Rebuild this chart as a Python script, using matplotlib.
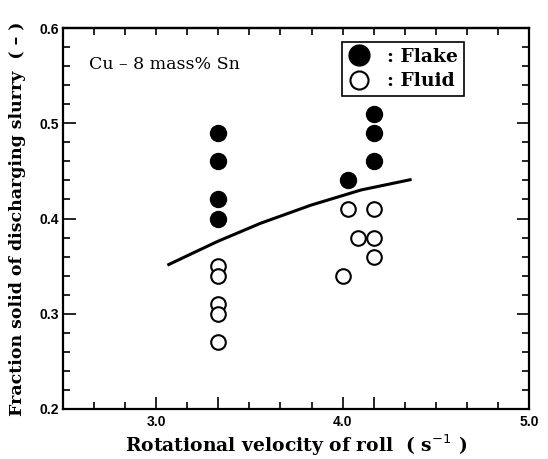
import matplotlib
matplotlib.use("Agg")
import matplotlib.pyplot as plt
from matplotlib.lines import Line2D
import numpy as np

# Data
flake_x = [3.333, 3.333, 3.333, 3.333, 4.03, 4.167, 4.167, 4.167]
flake_y = [0.49, 0.46, 0.42, 0.40, 0.44, 0.51, 0.49, 0.46]

fluid_x = [3.333, 3.333, 3.333, 3.333, 3.333, 4.00, 4.03, 4.08, 4.167, 4.167, 4.167]
fluid_y = [0.35, 0.34, 0.31, 0.30, 0.27, 0.34, 0.41, 0.38, 0.41, 0.38, 0.36]

curve_x = [3.06, 3.20, 3.33, 3.56, 3.83, 4.10, 4.37]
curve_y = [0.351, 0.364, 0.376, 0.395, 0.414, 0.430, 0.441]

x_major = [3.0, 10/3, 4.0, 25/6, 5.0]
x_major_labels = ["3.0", "", "4.0", "", "5.0"]
y_major = [0.2, 0.3, 0.4, 0.5, 0.6]
y_major_labels = ["0.2", "0.3", "0.4", "0.5", "0.6"]

serif = ["DejaVu Serif"]
narrow = ["Liberation Sans Narrow", "Liberation Sans", "DejaVu Sans"]

fig = plt.figure(figsize=(5.48, 4.59), dpi=100)
ax = fig.add_axes([63/548, 50/459, (529-63)/548, (409-28)/459])

ax.plot(curve_x, curve_y, color="black", lw=2.2, solid_capstyle="butt", zorder=2)
ax.plot(flake_x, flake_y, "o", ms=11.5, mfc="black", mec="black", mew=1.0, ls="none", zorder=3)
ax.plot(fluid_x, fluid_y, "o", ms=10.5, mfc="white", mec="black", mew=1.5, ls="none", zorder=3)

ax.set_xlim(2.5, 5.0)
ax.set_ylim(0.2, 0.6)

minor_x = [2.5 + k/6 for k in range(16)]
ax.set_xticks(x_major)
ax.set_xticklabels(x_major_labels)
ax.set_xticks(minor_x, minor=True)
ax.set_yticks(y_major)
ax.set_yticklabels(y_major_labels)
ax.set_yticks([0.2 + 0.02*k for k in range(21)], minor=True)

ax.tick_params(which="both", direction="in", top=False, right=True, width=1.2, colors="black")
ax.tick_params(which="major", length=9, pad=4)
ax.tick_params(which="minor", length=5)
for lab in ax.get_xticklabels() + ax.get_yticklabels():
    lab.set_family(narrow)
    lab.set_fontsize(10)
    lab.set_fontweight("bold")
ax.tick_params(axis="y", pad=3)

# top axis: short ticks only
top = ax.secondary_xaxis("top")
top.set_xticks(minor_x)
top.set_xticklabels([])
top.tick_params(direction="in", length=5, width=1.2)
top.spines["top"].set_linewidth(1.6)

for s in ax.spines.values():
    s.set_linewidth(1.6)

ax.set_xlabel("Rotational velocity of roll  ( s$^{-1}$ )", family=serif, fontsize=13.5,
              fontweight="bold")
ax.xaxis.label.set_va("center")
ax.xaxis.set_label_coords(0.5, -(445-409)/381)
ax.set_ylabel("Fraction solid of discharging slurry  ( \u2013 )", family=serif, fontsize=12.5,
              fontweight="bold")
ax.yaxis.label.set_va("center")
ax.yaxis.set_label_coords(-(63-18)/466, 0.5)

ax.text(0.055, 0.905, "Cu \u2013 8 mass% Sn", transform=ax.transAxes, family=serif,
        fontsize=12.5, ha="left", va="center")

handles = [
    Line2D([], [], marker="o", ls="none", ms=15, mfc="black", mec="black"),
    Line2D([], [], marker="o", ls="none", ms=13, mfc="white", mec="black", mew=1.5),
]
leg = ax.legend(handles, [": Flake", ": Fluid"], loc="upper left",
                bbox_to_anchor=((342-63)/466, 1 - (42-28)/381), frameon=True,
                fancybox=False, edgecolor="black", framealpha=1,
                prop={"family": serif, "weight": "bold", "size": 13.5},
                handletextpad=0.9, borderpad=0.3, labelspacing=0.35,
                handlelength=1.2, borderaxespad=0)
leg.get_frame().set_linewidth(1.2)

fig.savefig("out.png", dpi=100)
